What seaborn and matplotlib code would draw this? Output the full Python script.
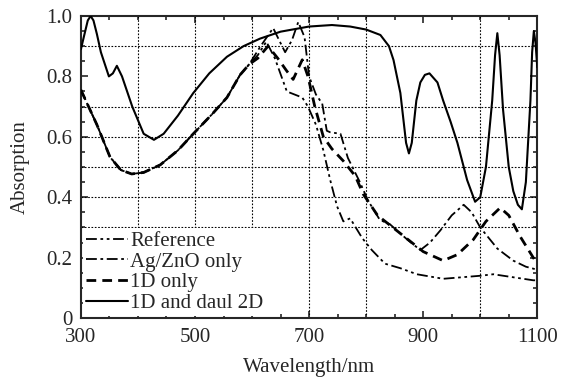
import matplotlib
matplotlib.use("Agg")
import matplotlib.pyplot as plt
import pandas as pd
import seaborn as sns
import numpy as np

# curves (wavelength in nm, absorption 0-1)
ref_x = [300, 328, 351, 370, 389, 410, 439, 470, 497, 530, 556, 579, 595, 610, 625, 640, 661, 688, 698,
         712, 725, 737, 749, 760, 772, 793, 810, 833, 860, 889, 935, 1000, 1023, 1058, 1093, 1100]
ref_y = [0.755, 0.64, 0.533, 0.49, 0.477, 0.482, 0.507, 0.555, 0.61, 0.675, 0.73, 0.805, 0.84, 0.87, 0.915,
         0.86, 0.75, 0.73, 0.70, 0.64, 0.555, 0.457, 0.37, 0.32, 0.33, 0.265, 0.225, 0.18, 0.165, 0.145,
         0.13, 0.14, 0.145, 0.135, 0.125, 0.125]

agzno_x = [300, 328, 351, 370, 389, 410, 439, 470, 497, 530, 556, 579, 595, 615, 637, 650, 658, 670, 681,
           692, 700, 712, 723, 731, 737, 755, 768, 789, 803, 824, 842, 872, 895, 912, 930, 950, 971, 985,
           1000, 1030, 1058, 1080, 1100]
agzno_y = [0.755, 0.64, 0.533, 0.49, 0.477, 0.482, 0.507, 0.555, 0.61, 0.675, 0.73, 0.805, 0.84, 0.90,
           0.96, 0.91, 0.88, 0.92, 0.98, 0.93, 0.80, 0.74, 0.71, 0.62, 0.615, 0.61, 0.53, 0.45, 0.39,
           0.325, 0.31, 0.26, 0.225, 0.25, 0.29, 0.34, 0.375, 0.35, 0.30, 0.23, 0.19, 0.17, 0.16]

only1d_x = [300, 328, 351, 370, 389, 410, 439, 470, 497, 530, 556, 579, 595, 610, 628, 645, 660, 672, 688,
            698, 710, 725, 740, 760, 781, 795, 820, 840, 860, 880, 900, 935, 960, 988, 1010, 1035, 1050,
            1070, 1093, 1100]
only1d_y = [0.755, 0.64, 0.533, 0.49, 0.477, 0.482, 0.507, 0.555, 0.61, 0.675, 0.73, 0.805, 0.84, 0.86,
            0.90, 0.86, 0.82, 0.79, 0.855, 0.80, 0.70, 0.60, 0.56, 0.52, 0.47, 0.41, 0.34, 0.31, 0.28,
            0.25, 0.22, 0.19, 0.21, 0.26, 0.32, 0.365, 0.34, 0.27, 0.20, 0.18]

dual2d_x = [300, 305, 312, 317, 322, 328, 335, 349, 356, 363, 372, 390, 410, 428, 445, 470, 497, 525, 556,
            585, 614, 650, 700, 740, 772, 800, 825, 840, 848, 860, 870, 875, 880, 888, 895, 903, 911, 925,
            935, 948, 960, 977, 991, 1000, 1010, 1021, 1026, 1030, 1034, 1040, 1050, 1058, 1066, 1073,
            1080, 1088, 1091, 1094, 1097, 1100]
dual2d_y = [0.89, 0.93, 0.985, 1.0, 0.985, 0.94, 0.88, 0.80, 0.81, 0.835, 0.80, 0.70, 0.61, 0.59, 0.61,
            0.67, 0.745, 0.81, 0.865, 0.90, 0.925, 0.948, 0.965, 0.97, 0.965, 0.955, 0.937, 0.90, 0.854,
            0.745, 0.58, 0.545, 0.58, 0.72, 0.78, 0.805, 0.81, 0.78, 0.72, 0.65, 0.58, 0.457, 0.385,
            0.40, 0.50, 0.72, 0.87, 0.943, 0.87, 0.69, 0.50, 0.42, 0.375, 0.36, 0.45, 0.72, 0.88, 0.95,
            0.91, 0.83]

series = [
    ("Reference", ref_x, ref_y, (0, (6, 2, 1.5, 2, 1.5, 2)), 1.3),
    ("Ag/ZnO only", agzno_x, agzno_y, (0, (6, 2, 1.5, 2)), 1.3),
    ("1D only", only1d_x, only1d_y, (0, (3.5, 2.2)), 2.0),
    ("1D and daul 2D", dual2d_x, dual2d_y, "-", 1.5),
]

sns.set_style("ticks")
plt.rcParams['font.family'] = ['Liberation Serif', 'DejaVu Serif']

fig = plt.figure(figsize=(5.62, 3.8), dpi=100)
ax = fig.add_axes([0.144, 0.163, 0.812, 0.795])

# dotted grid (only where the original shows it)
for gx in [400, 500, 600, 700, 800, 1000]:
    ax.axvline(gx, color='k', lw=0.8, ls=(0, (1.5, 1.5)), zorder=1)
for gy in [0.3, 0.4, 0.5, 0.6, 0.7, 0.9]:
    ax.axhline(gy, color='k', lw=0.8, ls=(0, (1.5, 1.5)), zorder=1)

for name, xs, ys, ls, lw in series:
    d = pd.DataFrame({'wl': xs, 'abs': ys})
    sns.lineplot(data=d, x='wl', y='abs', ax=ax, color='k', linestyle=ls, linewidth=lw,
                 label=name, zorder=3)

ax.set_xlim(300, 1100)
ax.set_ylim(0, 1.0)
ax.set_xticks([300, 500, 700, 900, 1100])
ax.set_xticks(np.arange(300, 1101, 50), minor=True)
ax.set_yticks([0, 0.2, 0.4, 0.6, 0.8, 1.0])
ax.set_yticklabels(['0', '0.2', '0.4', '0.6', '0.8', '1.0'])
ax.set_yticks(np.arange(0, 1.01, 0.05), minor=True)
ax.tick_params(which='both', direction='in', top=True, right=True, labelsize=15, width=1.2)
ax.tick_params(which='major', length=5)
ax.tick_params(axis='x', which='major', pad=7)
ax.tick_params(axis='y', which='major', pad=6)
ax.tick_params(which='minor', length=3)
for s in ax.spines.values():
    s.set_linewidth(1.5)

ax.set_xlabel("Wavelength/nm", fontsize=15, labelpad=8)
ax.set_ylabel("Absorption", fontsize=15, labelpad=12)

leg = ax.legend(loc='lower left', bbox_to_anchor=(0.0, 0.0), fontsize=15, frameon=True,
                facecolor='white', edgecolor='none', framealpha=1, fancybox=False,
                borderaxespad=0.1, borderpad=0.15, handlelength=2.0, handletextpad=0.1,
                labelspacing=0.05)
leg.set_zorder(2)

fig.savefig("out.png", dpi=100)
